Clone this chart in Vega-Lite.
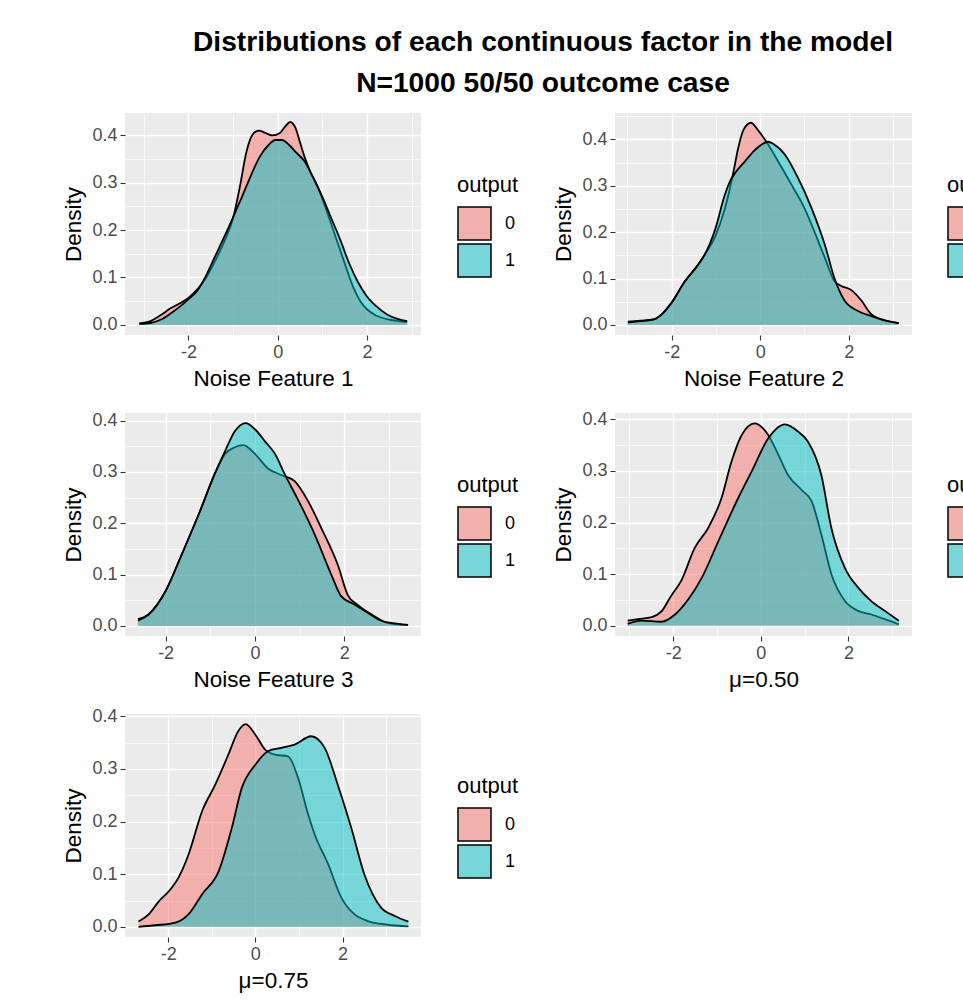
{
  "$schema": "https://vega.github.io/schema/vega-lite/v6.json",
  "padding": {"left": 62, "top": 27, "right": 5, "bottom": 5},
  "background": "white",
  "title": {"text": ["Distributions of each continuous factor in the model", "N=1000 50/50 outcome case"], "fontSize": 28.2, "fontWeight": "bold", "font": "Liberation Sans", "color": "black", "anchor": "middle", "lineHeight": 41, "offset": 15, "dx": 7},
  "datasets": {
    "d": [
      {"p":1,"o":"0","x":-3.10,"y":0.003},{"p":1,"o":"0","x":-2.85,"y":0.008},{"p":1,"o":"0","x":-2.60,"y":0.022},{"p":1,"o":"0","x":-2.40,"y":0.035},{"p":1,"o":"0","x":-2.20,"y":0.045},{"p":1,"o":"0","x":-2.00,"y":0.057},{"p":1,"o":"0","x":-1.80,"y":0.075},{"p":1,"o":"0","x":-1.60,"y":0.100},{"p":1,"o":"0","x":-1.40,"y":0.135},{"p":1,"o":"0","x":-1.20,"y":0.175},{"p":1,"o":"0","x":-1.00,"y":0.225},{"p":1,"o":"0","x":-0.85,"y":0.290},{"p":1,"o":"0","x":-0.70,"y":0.365},{"p":1,"o":"0","x":-0.55,"y":0.403},{"p":1,"o":"0","x":-0.42,"y":0.410},{"p":1,"o":"0","x":-0.28,"y":0.405},{"p":1,"o":"0","x":-0.12,"y":0.400},{"p":1,"o":"0","x":0.05,"y":0.405},{"p":1,"o":"0","x":0.18,"y":0.420},{"p":1,"o":"0","x":0.28,"y":0.428},{"p":1,"o":"0","x":0.40,"y":0.415},{"p":1,"o":"0","x":0.50,"y":0.385},{"p":1,"o":"0","x":0.60,"y":0.355},{"p":1,"o":"0","x":0.72,"y":0.325},{"p":1,"o":"0","x":0.90,"y":0.290},{"p":1,"o":"0","x":1.10,"y":0.240},{"p":1,"o":"0","x":1.30,"y":0.185},{"p":1,"o":"0","x":1.50,"y":0.130},{"p":1,"o":"0","x":1.70,"y":0.078},{"p":1,"o":"0","x":1.85,"y":0.050},{"p":1,"o":"0","x":2.00,"y":0.033},{"p":1,"o":"0","x":2.20,"y":0.020},{"p":1,"o":"0","x":2.45,"y":0.012},{"p":1,"o":"0","x":2.70,"y":0.008},{"p":1,"o":"0","x":2.90,"y":0.006},
      {"p":1,"o":"1","x":-3.10,"y":0.002},{"p":1,"o":"1","x":-2.85,"y":0.004},{"p":1,"o":"1","x":-2.60,"y":0.012},{"p":1,"o":"1","x":-2.40,"y":0.024},{"p":1,"o":"1","x":-2.20,"y":0.038},{"p":1,"o":"1","x":-2.00,"y":0.054},{"p":1,"o":"1","x":-1.80,"y":0.072},{"p":1,"o":"1","x":-1.60,"y":0.105},{"p":1,"o":"1","x":-1.40,"y":0.145},{"p":1,"o":"1","x":-1.20,"y":0.185},{"p":1,"o":"1","x":-1.00,"y":0.227},{"p":1,"o":"1","x":-0.80,"y":0.270},{"p":1,"o":"1","x":-0.60,"y":0.315},{"p":1,"o":"1","x":-0.40,"y":0.355},{"p":1,"o":"1","x":-0.20,"y":0.380},{"p":1,"o":"1","x":-0.05,"y":0.390},{"p":1,"o":"1","x":0.10,"y":0.390},{"p":1,"o":"1","x":0.25,"y":0.380},{"p":1,"o":"1","x":0.40,"y":0.365},{"p":1,"o":"1","x":0.60,"y":0.345},{"p":1,"o":"1","x":0.80,"y":0.310},{"p":1,"o":"1","x":1.00,"y":0.270},{"p":1,"o":"1","x":1.20,"y":0.225},{"p":1,"o":"1","x":1.40,"y":0.180},{"p":1,"o":"1","x":1.60,"y":0.130},{"p":1,"o":"1","x":1.80,"y":0.090},{"p":1,"o":"1","x":2.00,"y":0.060},{"p":1,"o":"1","x":2.20,"y":0.040},{"p":1,"o":"1","x":2.45,"y":0.022},{"p":1,"o":"1","x":2.70,"y":0.012},{"p":1,"o":"1","x":2.90,"y":0.008},

      {"p":2,"o":"0","x":-2.99,"y":0.007},{"p":2,"o":"0","x":-2.70,"y":0.009},{"p":2,"o":"0","x":-2.40,"y":0.012},{"p":2,"o":"0","x":-2.20,"y":0.025},{"p":2,"o":"0","x":-2.00,"y":0.048},{"p":2,"o":"0","x":-1.70,"y":0.094},{"p":2,"o":"0","x":-1.40,"y":0.130},{"p":2,"o":"0","x":-1.25,"y":0.152},{"p":2,"o":"0","x":-1.02,"y":0.190},{"p":2,"o":"0","x":-0.80,"y":0.250},{"p":2,"o":"0","x":-0.61,"y":0.327},{"p":2,"o":"0","x":-0.50,"y":0.380},{"p":2,"o":"0","x":-0.38,"y":0.420},{"p":2,"o":"0","x":-0.21,"y":0.436},{"p":2,"o":"0","x":-0.05,"y":0.420},{"p":2,"o":"0","x":0.14,"y":0.395},{"p":2,"o":"0","x":0.41,"y":0.352},{"p":2,"o":"0","x":0.71,"y":0.302},{"p":2,"o":"0","x":1.00,"y":0.252},{"p":2,"o":"0","x":1.23,"y":0.200},{"p":2,"o":"0","x":1.46,"y":0.145},{"p":2,"o":"0","x":1.68,"y":0.094},{"p":2,"o":"0","x":1.83,"y":0.084},{"p":2,"o":"0","x":2.06,"y":0.075},{"p":2,"o":"0","x":2.29,"y":0.052},{"p":2,"o":"0","x":2.51,"y":0.023},{"p":2,"o":"0","x":2.81,"y":0.010},{"p":2,"o":"0","x":3.13,"y":0.004},
      {"p":2,"o":"1","x":-2.99,"y":0.005},{"p":2,"o":"1","x":-2.70,"y":0.008},{"p":2,"o":"1","x":-2.40,"y":0.012},{"p":2,"o":"1","x":-2.20,"y":0.025},{"p":2,"o":"1","x":-2.00,"y":0.048},{"p":2,"o":"1","x":-1.70,"y":0.094},{"p":2,"o":"1","x":-1.40,"y":0.130},{"p":2,"o":"1","x":-1.25,"y":0.152},{"p":2,"o":"1","x":-1.02,"y":0.205},{"p":2,"o":"1","x":-0.80,"y":0.280},{"p":2,"o":"1","x":-0.68,"y":0.310},{"p":2,"o":"1","x":-0.57,"y":0.327},{"p":2,"o":"1","x":-0.35,"y":0.352},{"p":2,"o":"1","x":-0.12,"y":0.377},{"p":2,"o":"1","x":0.18,"y":0.395},{"p":2,"o":"1","x":0.30,"y":0.390},{"p":2,"o":"1","x":0.56,"y":0.367},{"p":2,"o":"1","x":0.86,"y":0.316},{"p":2,"o":"1","x":1.16,"y":0.252},{"p":2,"o":"1","x":1.46,"y":0.173},{"p":2,"o":"1","x":1.68,"y":0.100},{"p":2,"o":"1","x":1.91,"y":0.052},{"p":2,"o":"1","x":2.21,"y":0.030},{"p":2,"o":"1","x":2.51,"y":0.019},{"p":2,"o":"1","x":2.81,"y":0.010},{"p":2,"o":"1","x":3.13,"y":0.004},

      {"p":3,"o":"0","x":-2.62,"y":0.013},{"p":3,"o":"0","x":-2.38,"y":0.023},{"p":3,"o":"0","x":-2.00,"y":0.068},{"p":3,"o":"0","x":-1.64,"y":0.139},{"p":3,"o":"0","x":-1.26,"y":0.217},{"p":3,"o":"0","x":-0.89,"y":0.298},{"p":3,"o":"0","x":-0.67,"y":0.335},{"p":3,"o":"0","x":-0.45,"y":0.348},{"p":3,"o":"0","x":-0.26,"y":0.352},{"p":3,"o":"0","x":0.00,"y":0.335},{"p":3,"o":"0","x":0.30,"y":0.306},{"p":3,"o":"0","x":0.59,"y":0.294},{"p":3,"o":"0","x":0.89,"y":0.282},{"p":3,"o":"0","x":1.19,"y":0.243},{"p":3,"o":"0","x":1.49,"y":0.190},{"p":3,"o":"0","x":1.86,"y":0.118},{"p":3,"o":"0","x":2.08,"y":0.060},{"p":3,"o":"0","x":2.30,"y":0.041},{"p":3,"o":"0","x":2.60,"y":0.023},{"p":3,"o":"0","x":2.97,"y":0.006},{"p":3,"o":"0","x":3.43,"y":0.002},
      {"p":3,"o":"1","x":-2.62,"y":0.010},{"p":3,"o":"1","x":-2.38,"y":0.022},{"p":3,"o":"1","x":-2.00,"y":0.068},{"p":3,"o":"1","x":-1.64,"y":0.139},{"p":3,"o":"1","x":-1.26,"y":0.217},{"p":3,"o":"1","x":-0.89,"y":0.298},{"p":3,"o":"1","x":-0.67,"y":0.340},{"p":3,"o":"1","x":-0.45,"y":0.379},{"p":3,"o":"1","x":-0.21,"y":0.395},{"p":3,"o":"1","x":0.00,"y":0.383},{"p":3,"o":"1","x":0.22,"y":0.360},{"p":3,"o":"1","x":0.45,"y":0.335},{"p":3,"o":"1","x":0.67,"y":0.295},{"p":3,"o":"1","x":0.97,"y":0.245},{"p":3,"o":"1","x":1.34,"y":0.178},{"p":3,"o":"1","x":1.71,"y":0.100},{"p":3,"o":"1","x":1.93,"y":0.058},{"p":3,"o":"1","x":2.20,"y":0.043},{"p":3,"o":"1","x":2.50,"y":0.027},{"p":3,"o":"1","x":2.83,"y":0.010},{"p":3,"o":"1","x":3.12,"y":0.005},{"p":3,"o":"1","x":3.43,"y":0.002},

      {"p":4,"o":"0","x":-3.04,"y":0.010},{"p":4,"o":"0","x":-2.80,"y":0.013},{"p":4,"o":"0","x":-2.49,"y":0.017},{"p":4,"o":"0","x":-2.27,"y":0.028},{"p":4,"o":"0","x":-2.05,"y":0.058},{"p":4,"o":"0","x":-1.82,"y":0.087},{"p":4,"o":"0","x":-1.51,"y":0.151},{"p":4,"o":"0","x":-1.20,"y":0.190},{"p":4,"o":"0","x":-0.90,"y":0.247},{"p":4,"o":"0","x":-0.67,"y":0.318},{"p":4,"o":"0","x":-0.44,"y":0.369},{"p":4,"o":"0","x":-0.14,"y":0.392},{"p":4,"o":"0","x":0.17,"y":0.369},{"p":4,"o":"0","x":0.40,"y":0.331},{"p":4,"o":"0","x":0.62,"y":0.292},{"p":4,"o":"0","x":0.93,"y":0.263},{"p":4,"o":"0","x":1.16,"y":0.241},{"p":4,"o":"0","x":1.38,"y":0.177},{"p":4,"o":"0","x":1.61,"y":0.100},{"p":4,"o":"0","x":1.92,"y":0.048},{"p":4,"o":"0","x":2.22,"y":0.029},{"p":4,"o":"0","x":2.52,"y":0.022},{"p":4,"o":"0","x":2.83,"y":0.013},{"p":4,"o":"0","x":3.15,"y":0.003},
      {"p":4,"o":"1","x":-3.04,"y":0.004},{"p":4,"o":"1","x":-2.72,"y":0.010},{"p":4,"o":"1","x":-2.27,"y":0.008},{"p":4,"o":"1","x":-1.96,"y":0.022},{"p":4,"o":"1","x":-1.66,"y":0.051},{"p":4,"o":"1","x":-1.35,"y":0.093},{"p":4,"o":"1","x":-0.97,"y":0.164},{"p":4,"o":"1","x":-0.52,"y":0.247},{"p":4,"o":"1","x":-0.21,"y":0.299},{"p":4,"o":"1","x":0.17,"y":0.363},{"p":4,"o":"1","x":0.55,"y":0.390},{"p":4,"o":"1","x":0.85,"y":0.376},{"p":4,"o":"1","x":1.08,"y":0.356},{"p":4,"o":"1","x":1.38,"y":0.292},{"p":4,"o":"1","x":1.61,"y":0.189},{"p":4,"o":"1","x":1.92,"y":0.112},{"p":4,"o":"1","x":2.22,"y":0.074},{"p":4,"o":"1","x":2.52,"y":0.048},{"p":4,"o":"1","x":2.83,"y":0.029},{"p":4,"o":"1","x":3.15,"y":0.010},

      {"p":5,"o":"0","x":-2.68,"y":0.010},{"p":5,"o":"0","x":-2.44,"y":0.024},{"p":5,"o":"0","x":-2.21,"y":0.049},{"p":5,"o":"0","x":-1.98,"y":0.068},{"p":5,"o":"0","x":-1.76,"y":0.094},{"p":5,"o":"0","x":-1.53,"y":0.138},{"p":5,"o":"0","x":-1.22,"y":0.220},{"p":5,"o":"0","x":-0.92,"y":0.270},{"p":5,"o":"0","x":-0.62,"y":0.327},{"p":5,"o":"0","x":-0.39,"y":0.372},{"p":5,"o":"0","x":-0.22,"y":0.385},{"p":5,"o":"0","x":0.00,"y":0.365},{"p":5,"o":"0","x":0.22,"y":0.337},{"p":5,"o":"0","x":0.45,"y":0.327},{"p":5,"o":"0","x":0.75,"y":0.324},{"p":5,"o":"0","x":0.98,"y":0.283},{"p":5,"o":"0","x":1.21,"y":0.214},{"p":5,"o":"0","x":1.36,"y":0.176},{"p":5,"o":"0","x":1.67,"y":0.119},{"p":5,"o":"0","x":1.97,"y":0.056},{"p":5,"o":"0","x":2.27,"y":0.024},{"p":5,"o":"0","x":2.58,"y":0.011},{"p":5,"o":"0","x":3.03,"y":0.004},{"p":5,"o":"0","x":3.51,"y":0.001},
      {"p":5,"o":"1","x":-2.68,"y":0.000},{"p":5,"o":"1","x":-2.29,"y":0.003},{"p":5,"o":"1","x":-1.83,"y":0.008},{"p":5,"o":"1","x":-1.53,"y":0.024},{"p":5,"o":"1","x":-1.22,"y":0.062},{"p":5,"o":"1","x":-0.84,"y":0.106},{"p":5,"o":"1","x":-0.54,"y":0.188},{"p":5,"o":"1","x":-0.31,"y":0.264},{"p":5,"o":"1","x":0.00,"y":0.308},{"p":5,"o":"1","x":0.30,"y":0.334},{"p":5,"o":"1","x":0.60,"y":0.340},{"p":5,"o":"1","x":0.90,"y":0.346},{"p":5,"o":"1","x":1.28,"y":0.362},{"p":5,"o":"1","x":1.59,"y":0.340},{"p":5,"o":"1","x":1.89,"y":0.270},{"p":5,"o":"1","x":2.20,"y":0.188},{"p":5,"o":"1","x":2.50,"y":0.100},{"p":5,"o":"1","x":2.88,"y":0.037},{"p":5,"o":"1","x":3.19,"y":0.021},{"p":5,"o":"1","x":3.51,"y":0.010}
    ]
  },
  "columns": 2,
  "spacing": {"row": 78, "column": 194},
  "bounds": "flush",
  "resolve": {"scale": {"fill": "independent", "color": "independent"}, "legend": {"fill": "independent"}},
  "concat": [
    {
      "width": 296, "height": 222,
      "data": {"name": "d"},
      "transform": [{"filter": "datum.p == 1"}],
      "encoding": {
        "x": {"field": "x", "type": "quantitative", "title": "Noise Feature 1", "scale": {"domain": [-3.42, 3.21], "nice": false, "zero": false},
          "axis": {"values": [-3,-2,-1,0,1,2,3], "labelExpr": "datum.value % 2 == 0 ? toString(datum.value) : ''", "gridWidth": {"condition": {"test": "datum.value % 2 != 0", "value": 0.7}, "value": 1.4}, "tickOpacity": {"condition": {"test": "datum.value % 2 != 0", "value": 0}, "value": 1}}},
        "y": {"field": "y", "type": "quantitative", "title": "Density", "stack": null, "scale": {"domain": [-0.0213, 0.447], "nice": false, "zero": false},
          "axis": {"values": [0,0.05,0.1,0.15,0.2,0.25,0.3,0.35,0.4], "labelExpr": "round(datum.value*100) % 10 == 0 ? format(datum.value, '.1f') : ''", "gridWidth": {"condition": {"test": "round(datum.value*100) % 10 != 0", "value": 0.7}, "value": 1.4}, "tickOpacity": {"condition": {"test": "round(datum.value*100) % 10 != 0", "value": 0}, "value": 1}}}
      },
      "layer": [
        {"mark": {"type": "area"}, "encoding": {"y2": {"field": "y"}, "fill": {"field": "o", "type": "nominal", "title": "output", "scale": {"domain": ["0","1"], "range": ["#F1B0AC","#75D5D7"]}}}},
        {"transform": [{"filter": "datum.o == '0'"}], "mark": {"type": "area", "interpolate": "monotone", "fillOpacity": 0.5}, "encoding": {"y2": {"datum": 0}, "color": {"field": "o", "type": "nominal", "legend": null, "scale": {"domain": ["0","1","z"], "range": ["#F8766D","#00BFC4","#000000"]}}}},
        {"transform": [{"filter": "datum.o == '0'"}], "mark": {"type": "line", "interpolate": "monotone", "color": "black", "strokeWidth": 1.8}, "encoding": {}},
        {"transform": [{"filter": "datum.o == '1'"}], "mark": {"type": "area", "interpolate": "monotone", "fillOpacity": 0.5}, "encoding": {"y2": {"datum": 0}, "color": {"field": "o", "type": "nominal", "legend": null, "scale": {"domain": ["0","1","z"], "range": ["#F8766D","#00BFC4","#000000"]}}}},
        {"transform": [{"filter": "datum.o == '1'"}], "mark": {"type": "line", "interpolate": "monotone", "color": "black", "strokeWidth": 1.8}, "encoding": {}}
      ]
    },
    {
      "width": 297, "height": 222,
      "data": {"name": "d"},
      "transform": [{"filter": "datum.p == 2"}],
      "encoding": {
        "x": {"field": "x", "type": "quantitative", "title": "Noise Feature 2", "scale": {"domain": [-3.28, 3.43], "nice": false, "zero": false},
          "axis": {"values": [-3,-2,-1,0,1,2,3], "labelExpr": "datum.value % 2 == 0 ? toString(datum.value) : ''", "gridWidth": {"condition": {"test": "datum.value % 2 != 0", "value": 0.7}, "value": 1.4}, "tickOpacity": {"condition": {"test": "datum.value % 2 != 0", "value": 0}, "value": 1}}},
        "y": {"field": "y", "type": "quantitative", "title": "Density", "stack": null, "scale": {"domain": [-0.0218, 0.457], "nice": false, "zero": false},
          "axis": {"values": [0,0.05,0.1,0.15,0.2,0.25,0.3,0.35,0.4,0.45], "labelExpr": "round(datum.value*100) % 10 == 0 ? format(datum.value, '.1f') : ''", "gridWidth": {"condition": {"test": "round(datum.value*100) % 10 != 0", "value": 0.7}, "value": 1.4}, "tickOpacity": {"condition": {"test": "round(datum.value*100) % 10 != 0", "value": 0}, "value": 1}}}
      },
      "layer": [
        {"mark": {"type": "area"}, "encoding": {"y2": {"field": "y"}, "fill": {"field": "o", "type": "nominal", "title": "output", "scale": {"domain": ["0","1"], "range": ["#F1B0AC","#75D5D7"]}}}},
        {"transform": [{"filter": "datum.o == '0'"}], "mark": {"type": "area", "interpolate": "monotone", "fillOpacity": 0.5}, "encoding": {"y2": {"datum": 0}, "color": {"field": "o", "type": "nominal", "legend": null, "scale": {"domain": ["0","1","z"], "range": ["#F8766D","#00BFC4","#000000"]}}}},
        {"transform": [{"filter": "datum.o == '0'"}], "mark": {"type": "line", "interpolate": "monotone", "color": "black", "strokeWidth": 1.8}, "encoding": {}},
        {"transform": [{"filter": "datum.o == '1'"}], "mark": {"type": "area", "interpolate": "monotone", "fillOpacity": 0.5}, "encoding": {"y2": {"datum": 0}, "color": {"field": "o", "type": "nominal", "legend": null, "scale": {"domain": ["0","1","z"], "range": ["#F8766D","#00BFC4","#000000"]}}}},
        {"transform": [{"filter": "datum.o == '1'"}], "mark": {"type": "line", "interpolate": "monotone", "color": "black", "strokeWidth": 1.8}, "encoding": {}}
      ]
    },
    {
      "width": 296, "height": 223,
      "data": {"name": "d"},
      "transform": [{"filter": "datum.p == 3"}],
      "encoding": {
        "x": {"field": "x", "type": "quantitative", "title": "Noise Feature 3", "scale": {"domain": [-2.91, 3.72], "nice": false, "zero": false},
          "axis": {"values": [-2,-1,0,1,2,3], "labelExpr": "datum.value % 2 == 0 ? toString(datum.value) : ''", "gridWidth": {"condition": {"test": "datum.value % 2 != 0", "value": 0.7}, "value": 1.4}, "tickOpacity": {"condition": {"test": "datum.value % 2 != 0", "value": 0}, "value": 1}}},
        "y": {"field": "y", "type": "quantitative", "title": "Density", "stack": null, "scale": {"domain": [-0.0197, 0.4147], "nice": false, "zero": false},
          "axis": {"values": [0,0.05,0.1,0.15,0.2,0.25,0.3,0.35,0.4], "labelExpr": "round(datum.value*100) % 10 == 0 ? format(datum.value, '.1f') : ''", "gridWidth": {"condition": {"test": "round(datum.value*100) % 10 != 0", "value": 0.7}, "value": 1.4}, "tickOpacity": {"condition": {"test": "round(datum.value*100) % 10 != 0", "value": 0}, "value": 1}}}
      },
      "layer": [
        {"mark": {"type": "area"}, "encoding": {"y2": {"field": "y"}, "fill": {"field": "o", "type": "nominal", "title": "output", "scale": {"domain": ["0","1"], "range": ["#F1B0AC","#75D5D7"]}}}},
        {"transform": [{"filter": "datum.o == '0'"}], "mark": {"type": "area", "interpolate": "monotone", "fillOpacity": 0.5}, "encoding": {"y2": {"datum": 0}, "color": {"field": "o", "type": "nominal", "legend": null, "scale": {"domain": ["0","1","z"], "range": ["#F8766D","#00BFC4","#000000"]}}}},
        {"transform": [{"filter": "datum.o == '0'"}], "mark": {"type": "line", "interpolate": "monotone", "color": "black", "strokeWidth": 1.8}, "encoding": {}},
        {"transform": [{"filter": "datum.o == '1'"}], "mark": {"type": "area", "interpolate": "monotone", "fillOpacity": 0.5}, "encoding": {"y2": {"datum": 0}, "color": {"field": "o", "type": "nominal", "legend": null, "scale": {"domain": ["0","1","z"], "range": ["#F8766D","#00BFC4","#000000"]}}}},
        {"transform": [{"filter": "datum.o == '1'"}], "mark": {"type": "line", "interpolate": "monotone", "color": "black", "strokeWidth": 1.8}, "encoding": {}}
      ]
    },
    {
      "width": 297, "height": 223,
      "data": {"name": "d"},
      "transform": [{"filter": "datum.p == 4"}],
      "encoding": {
        "x": {"field": "x", "type": "quantitative", "title": "μ=0.50", "scale": {"domain": [-3.33, 3.45], "nice": false, "zero": false},
          "axis": {"values": [-3,-2,-1,0,1,2,3], "labelExpr": "datum.value % 2 == 0 ? toString(datum.value) : ''", "gridWidth": {"condition": {"test": "datum.value % 2 != 0", "value": 0.7}, "value": 1.4}, "tickOpacity": {"condition": {"test": "datum.value % 2 != 0", "value": 0}, "value": 1}}},
        "y": {"field": "y", "type": "quantitative", "title": "Density", "stack": null, "scale": {"domain": [-0.0196, 0.412], "nice": false, "zero": false},
          "axis": {"values": [0,0.05,0.1,0.15,0.2,0.25,0.3,0.35,0.4], "labelExpr": "round(datum.value*100) % 10 == 0 ? format(datum.value, '.1f') : ''", "gridWidth": {"condition": {"test": "round(datum.value*100) % 10 != 0", "value": 0.7}, "value": 1.4}, "tickOpacity": {"condition": {"test": "round(datum.value*100) % 10 != 0", "value": 0}, "value": 1}}}
      },
      "layer": [
        {"mark": {"type": "area"}, "encoding": {"y2": {"field": "y"}, "fill": {"field": "o", "type": "nominal", "title": "output", "scale": {"domain": ["0","1"], "range": ["#F1B0AC","#75D5D7"]}}}},
        {"transform": [{"filter": "datum.o == '0'"}], "mark": {"type": "area", "interpolate": "monotone", "fillOpacity": 0.5}, "encoding": {"y2": {"datum": 0}, "color": {"field": "o", "type": "nominal", "legend": null, "scale": {"domain": ["0","1","z"], "range": ["#F8766D","#00BFC4","#000000"]}}}},
        {"transform": [{"filter": "datum.o == '0'"}], "mark": {"type": "line", "interpolate": "monotone", "color": "black", "strokeWidth": 1.8}, "encoding": {}},
        {"transform": [{"filter": "datum.o == '1'"}], "mark": {"type": "area", "interpolate": "monotone", "fillOpacity": 0.5}, "encoding": {"y2": {"datum": 0}, "color": {"field": "o", "type": "nominal", "legend": null, "scale": {"domain": ["0","1","z"], "range": ["#F8766D","#00BFC4","#000000"]}}}},
        {"transform": [{"filter": "datum.o == '1'"}], "mark": {"type": "line", "interpolate": "monotone", "color": "black", "strokeWidth": 1.8}, "encoding": {}}
      ]
    },
    {
      "width": 296, "height": 223,
      "data": {"name": "d"},
      "transform": [{"filter": "datum.p == 5"}],
      "encoding": {
        "x": {"field": "x", "type": "quantitative", "title": "μ=0.75", "scale": {"domain": [-2.99, 3.8], "nice": false, "zero": false},
          "axis": {"values": [-2,-1,0,1,2,3], "labelExpr": "datum.value % 2 == 0 ? toString(datum.value) : ''", "gridWidth": {"condition": {"test": "datum.value % 2 != 0", "value": 0.7}, "value": 1.4}, "tickOpacity": {"condition": {"test": "datum.value % 2 != 0", "value": 0}, "value": 1}}},
        "y": {"field": "y", "type": "quantitative", "title": "Density", "stack": null, "scale": {"domain": [-0.0193, 0.4043], "nice": false, "zero": false},
          "axis": {"values": [0,0.05,0.1,0.15,0.2,0.25,0.3,0.35,0.4], "labelExpr": "round(datum.value*100) % 10 == 0 ? format(datum.value, '.1f') : ''", "gridWidth": {"condition": {"test": "round(datum.value*100) % 10 != 0", "value": 0.7}, "value": 1.4}, "tickOpacity": {"condition": {"test": "round(datum.value*100) % 10 != 0", "value": 0}, "value": 1}}}
      },
      "layer": [
        {"mark": {"type": "area"}, "encoding": {"y2": {"field": "y"}, "fill": {"field": "o", "type": "nominal", "title": "output", "scale": {"domain": ["0","1"], "range": ["#F1B0AC","#75D5D7"]}}}},
        {"transform": [{"filter": "datum.o == '0'"}], "mark": {"type": "area", "interpolate": "monotone", "fillOpacity": 0.5}, "encoding": {"y2": {"datum": 0}, "color": {"field": "o", "type": "nominal", "legend": null, "scale": {"domain": ["0","1","z"], "range": ["#F8766D","#00BFC4","#000000"]}}}},
        {"transform": [{"filter": "datum.o == '0'"}], "mark": {"type": "line", "interpolate": "monotone", "color": "black", "strokeWidth": 1.8}, "encoding": {}},
        {"transform": [{"filter": "datum.o == '1'"}], "mark": {"type": "area", "interpolate": "monotone", "fillOpacity": 0.5}, "encoding": {"y2": {"datum": 0}, "color": {"field": "o", "type": "nominal", "legend": null, "scale": {"domain": ["0","1","z"], "range": ["#F8766D","#00BFC4","#000000"]}}}},
        {"transform": [{"filter": "datum.o == '1'"}], "mark": {"type": "line", "interpolate": "monotone", "color": "black", "strokeWidth": 1.8}, "encoding": {}}
      ]
    }
  ],
  "config": {
    "font": "Liberation Sans",
    "view": {"fill": "#EBEBEB", "stroke": null},
    "axis": {"domain": false, "gridColor": "white", "tickColor": "#333333", "tickSize": 5, "tickWidth": 1.1, "labelColor": "#4D4D4D", "labelFontSize": 18, "labelPadding": 3, "labelFont": "Liberation Sans", "titleFont": "Liberation Sans", "titleFontSize": 22.5, "titleFontWeight": "normal", "titleColor": "black", "titlePadding": 6},
    "legend": {"orient": "none", "legendX": 332, "legendY": 62, "symbolType": "square", "symbolSize": 1089, "symbolStrokeColor": "black", "symbolStrokeWidth": 1.5, "titleFontSize": 22, "titleFontWeight": "normal", "titleColor": "black", "titleFont": "Liberation Sans", "titlePadding": 9, "labelFontSize": 18, "labelColor": "black", "labelFont": "Liberation Sans", "labelOffset": 13, "rowPadding": -9}
  }
}
